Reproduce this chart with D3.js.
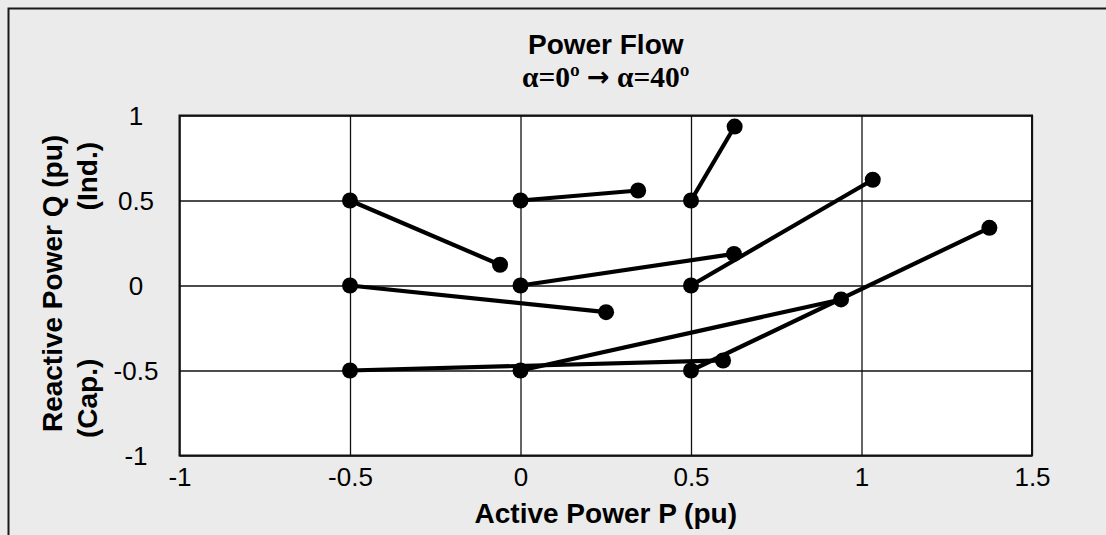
<!DOCTYPE html>
<html><head><meta charset="utf-8">
<script src="https://cdn.jsdelivr.net/npm/d3@7"></script>
<style>html,body{margin:0;padding:0;background:#ebebeb;overflow:hidden}</style>
</head><body>
<svg id="c" width="1106" height="535"></svg>
<script>
// Data: each series goes from alpha=0° (start) to alpha=40° (end)
const startP = [-0.5, 0, 0.5, -0.5, 0, 0.5, -0.5, 0, 0.5];
const startQ = [0.5, 0.5, 0.5, 0, 0, 0, -0.5, -0.5, -0.5];
const endP = [-0.06, 0.345, 0.628, 0.251, 0.626, 1.033, 0.594, 0.94, 1.375];
const endQ = [0.122, 0.559, 0.935, -0.157, 0.186, 0.622, -0.441, -0.082, 0.339];
const xTicks = [-1, -0.5, 0, 0.5, 1, 1.5];
const yTicks = [-1, -0.5, 0, 0.5, 1];
const titleText = "Power Flow";
const subtitleLeft = "α=0º";
const subtitleArrow = "→";
const subtitleRight = "α=40º";
const xLabel = "Active Power P (pu)";
const yLabel = "Reactive Power Q (pu)";
const yLabelLow = "(Cap.)";
const yLabelHigh = "(Ind.)";

const svg = d3.select("#c");
const W = 1106, H = 535;
const m = {left: 179.5, right: 1032, top: 115.5, bottom: 455.5};

svg.append("rect").attr("x", 0).attr("y", 0).attr("width", W).attr("height", H).attr("fill", "#ebebeb");
svg.append("rect").attr("x", 8.5).attr("y", 8.5).attr("width", W + 20).attr("height", H + 20)
  .attr("fill", "none").attr("stroke", "#1a1a1a").attr("stroke-width", 2);

const x = d3.scaleLinear().domain([-1, 1.5]).range([m.left, m.right]);
const y = d3.scaleLinear().domain([-1, 1]).range([m.bottom, m.top]);

svg.append("rect").attr("x", m.left).attr("y", m.top).attr("width", m.right - m.left)
  .attr("height", m.bottom - m.top).attr("fill", "#fff");

const fmt = d => String(d);
const gx = svg.append("g").attr("transform", `translate(0,${m.bottom})`)
  .call(d3.axisBottom(x).tickValues(xTicks).tickSize(-(m.bottom - m.top)).tickFormat(fmt));
const gy = svg.append("g").attr("transform", `translate(${m.left},0)`)
  .call(d3.axisLeft(y).tickValues(yTicks).tickSize(-(m.right - m.left)).tickFormat(fmt));
[gx, gy].forEach(g => {
  g.select(".domain").remove();
  g.selectAll(".tick line").attr("stroke", "#111").attr("stroke-width", 1.3);
  g.selectAll(".tick text").attr("font-family", "Liberation Sans, Arial, sans-serif")
    .attr("font-size", 26).attr("fill", "#000");
});
gx.selectAll(".tick text").attr("dy", null).attr("y", 30.5);
gy.selectAll(".tick text").attr("text-anchor", "middle").attr("x", 136 - m.left).attr("dy", "0.35em");

svg.append("rect").attr("x", m.left).attr("y", m.top).attr("width", m.right - m.left)
  .attr("height", m.bottom - m.top).attr("fill", "none").attr("stroke", "#111").attr("stroke-width", 2);

// series
const series = startP.map((p, i) => [[p, startQ[i]], [endP[i], endQ[i]]]);
const line = d3.line().x(d => x(d[0])).y(d => y(d[1]));
const sg = svg.append("g");
series.forEach(s => {
  sg.append("path").attr("d", line(s)).attr("fill", "none").attr("stroke", "#000").attr("stroke-width", 4.2);
  s.forEach(pt => sg.append("circle").attr("cx", x(pt[0])).attr("cy", y(pt[1])).attr("r", 8).attr("fill", "#000"));
});

// titles
const cx = (m.left + m.right) / 2;
svg.append("text").attr("x", cx).attr("y", 54).attr("text-anchor", "middle")
  .attr("font-family", "Liberation Sans, Arial, sans-serif").attr("font-weight", "bold").attr("font-size", 28)
  .text(titleText);
const sub = svg.append("text").attr("x", cx).attr("y", 86.5).attr("text-anchor", "middle")
  .attr("font-family", "Liberation Serif, Times New Roman, serif").attr("font-weight", "bold").attr("font-size", 29.5);
sub.append("tspan").text(subtitleLeft + " ");
sub.append("tspan").attr("font-family", "DejaVu Sans, sans-serif").attr("font-size", 27).attr("dy", -1).text(subtitleArrow);
sub.append("tspan").attr("dy", 1).text(" " + subtitleRight);
svg.append("text").attr("x", cx).attr("y", 522.5).attr("text-anchor", "middle")
  .attr("font-family", "Liberation Sans, Arial, sans-serif").attr("font-weight", "bold").attr("font-size", 28)
  .text(xLabel);

const yl = svg.append("g").attr("font-family", "Liberation Sans, Arial, sans-serif")
  .attr("font-weight", "bold").attr("font-size", 28);
yl.append("text").attr("transform", `translate(62,${(m.top + m.bottom) / 2 - 2}) rotate(-90)`)
  .attr("text-anchor", "middle").text(yLabel);
yl.append("text").attr("transform", `translate(97,438) rotate(-90)`)
  .attr("text-anchor", "start").text(yLabelLow);
yl.append("text").attr("transform", `translate(97,142) rotate(-90)`)
  .attr("text-anchor", "end").text(yLabelHigh);
</script>
</body></html>
